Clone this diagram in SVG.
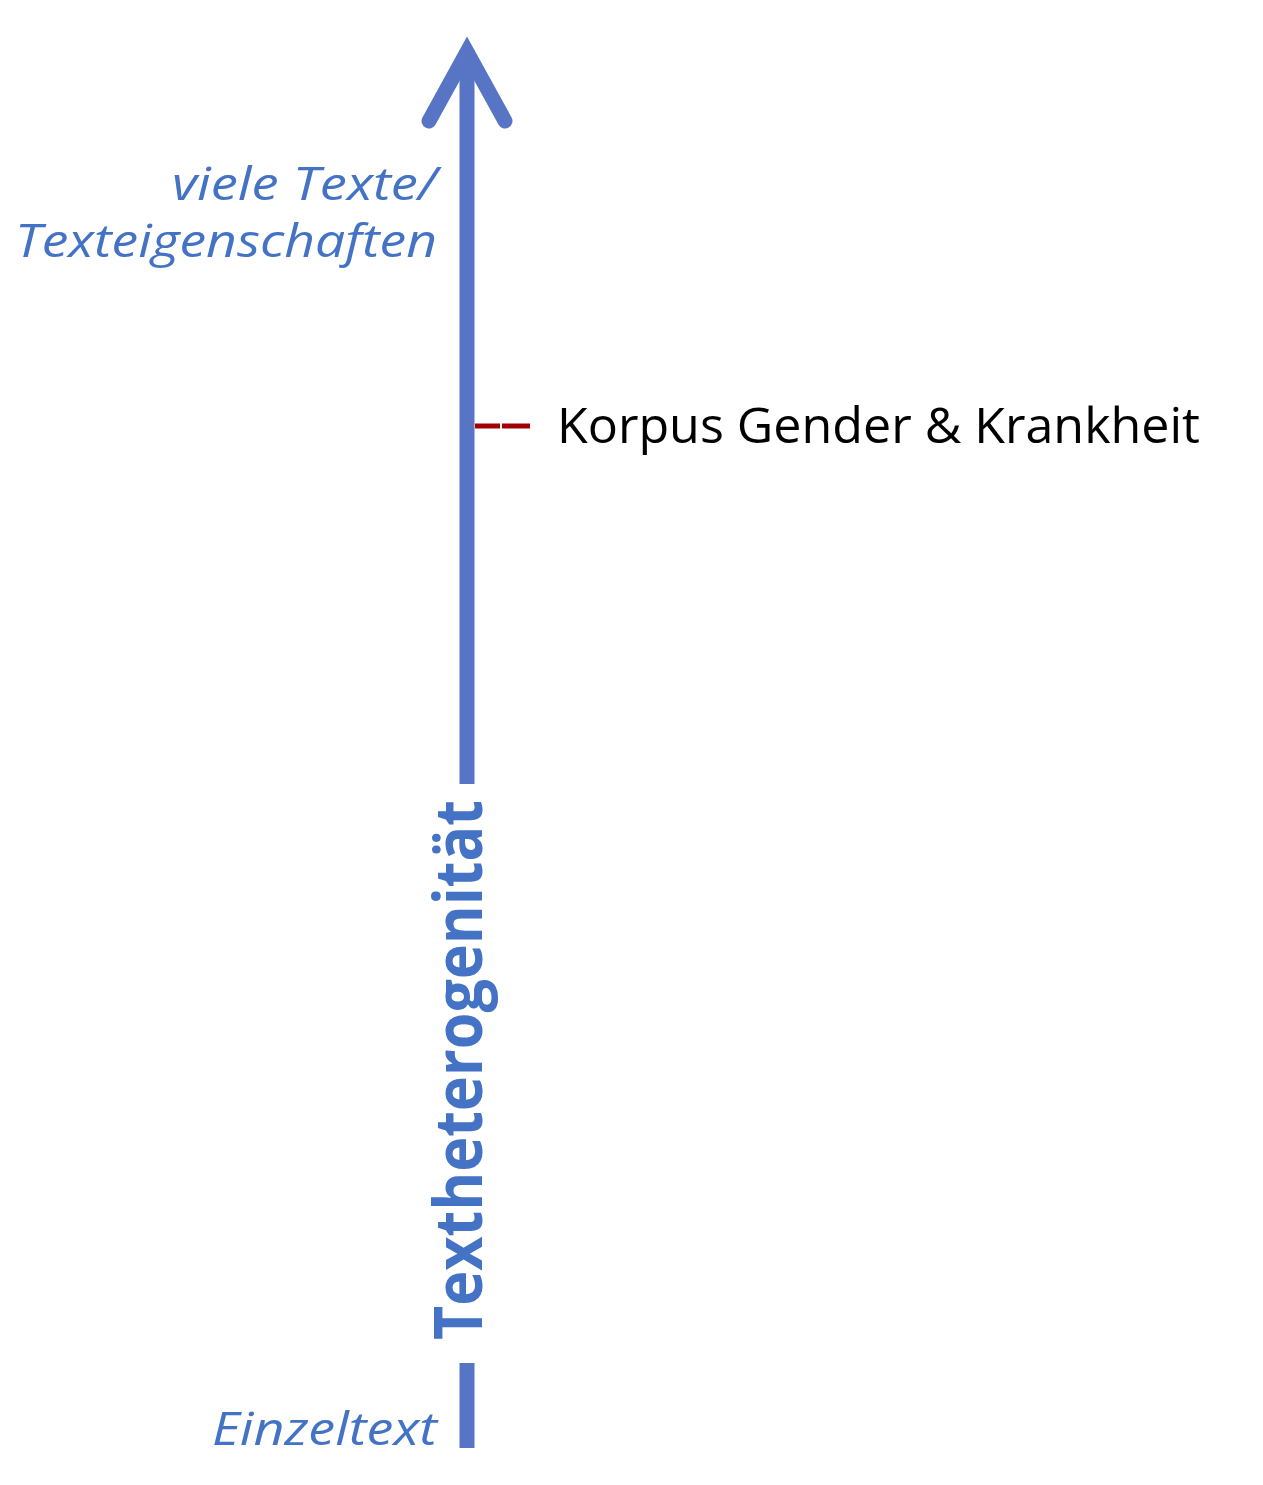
<svg xmlns="http://www.w3.org/2000/svg" width="1263" height="1485" viewBox="0 0 1263 1485">
<style>
.ax{stroke:#5874C4;stroke-width:15;fill:none}
.it{font-family:"Open Sans","Noto Sans",sans-serif;font-style:italic;fill:#4472C4;font-size:46px}
.lb{font-family:"Open Sans","Noto Sans",sans-serif;fill:#000;font-size:49px}
</style>
<rect width="1263" height="1485" fill="#fff"/>
<g id="connectors">
<line class="ax" x1="467" y1="784" x2="467" y2="50"/>
<polyline class="ax" points="429,121 467,52 505,121" stroke-linecap="round" stroke-linejoin="miter"/>
<line class="ax" x1="467" y1="1363" x2="467" y2="1448"/>
<line x1="475" y1="426" x2="500" y2="426" stroke="#A00000" stroke-width="5"/>
<line x1="502" y1="426" x2="530" y2="426" stroke="#A00000" stroke-width="5"/>
</g>
<g id="axis-label">
<text transform="translate(482,1340) rotate(-90)" font-family="'Open Sans','Noto Sans',sans-serif" font-weight="bold" font-size="66" fill="#4472C4" textLength="540" lengthAdjust="spacingAndGlyphs">Textheterogenität</text>
</g>
<g id="top-label">
<text class="it" x="437" y="200" text-anchor="end" textLength="265" lengthAdjust="spacingAndGlyphs">viele Texte/</text>
<text class="it" x="437" y="257" text-anchor="end" textLength="422" lengthAdjust="spacingAndGlyphs">Texteigenschaften</text>
</g>
<g id="bottom-label">
<text class="it" x="437" y="1445" text-anchor="end" textLength="225" lengthAdjust="spacingAndGlyphs">Einzeltext</text>
</g>
<g id="korpus">
<text class="lb" x="557" y="443" textLength="643" lengthAdjust="spacingAndGlyphs">Korpus Gender &amp; Krankheit</text>
</g>
</svg>
